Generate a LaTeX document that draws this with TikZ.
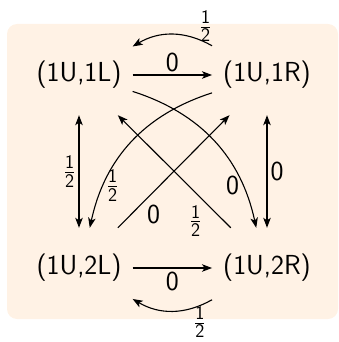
\documentclass[tikz,border=0pt]{standalone}
\usepackage{amsmath}
\usepackage{tikz}
\usetikzlibrary{arrows.meta, positioning, calc}

\newcommand{\half}{$\frac{\textsf{1}}{\textsf{2}}$}

\begin{document}
\begin{tikzpicture}[x=1pt, y=-1pt, font=\sffamily\fontsize{27.5}{32}\selectfont]
    \tikzset{
        state/.style={inner xsep=11pt, minimum height=80pt},
        trans/.style={-{Stealth[length=10pt, width=7.5pt, inset=2.5pt]}, line width=1.1pt},
        both/.style={{Stealth[length=10pt, width=7.5pt, inset=2.5pt]}-{Stealth[length=10pt, width=7.5pt, inset=2.5pt]}, line width=1.1pt},
        prob/.style={inner sep=3pt}
    }
    \useasboundingbox (0,0) rectangle (339,342);
    \fill[orange!10, rounded corners=10pt] (7,24) rectangle (338,319);

    \node[state] (ul) at (79,75) {(1U,1L)};
    \node[state] (ur) at (267,75) {(1U,1R)};
    \node[state] (dl) at (79,268) {(1U,2L)};
    \node[state] (dr) at (267,268) {(1U,2R)};

    % horizontal moves
    \draw[trans] (ul.east) -- node[above, prob] {0} (ur.west);
    \draw[trans] (dl.east) -- node[below, prob] {0} (dr.west);
    \draw[trans] (ur.152) to[bend right=30] node[pos=0.08, above, inner sep=0pt] {\half} (ul.28);
    \draw[trans] (dr.210) to[bend left=30] node[pos=0.15, below, inner sep=0.5pt] {\half} (dl.330);

    % vertical moves
    \draw[both] (ul.south) -- node[left, prob] {\half} (dl.north);
    \draw[both] (ur.south) -- node[right, prob] {0} (dr.north);

    % diagonal moves
    \draw[trans] (ul.-17) to[bend left=30] node[pos=0.78, left, prob] {0} (dr.105);
    \draw[trans] (ur.198) to[bend right=30] node[pos=0.78, right, prob] {\half} (dl.75);
    \draw[trans] (dl.46) -- node[pos=0.23, below right, prob] {0} (ur.227);
    \draw[trans] (dr.132) -- node[pos=0.23, below left, prob] {\half} (ul.314);
\end{tikzpicture}
\end{document}
